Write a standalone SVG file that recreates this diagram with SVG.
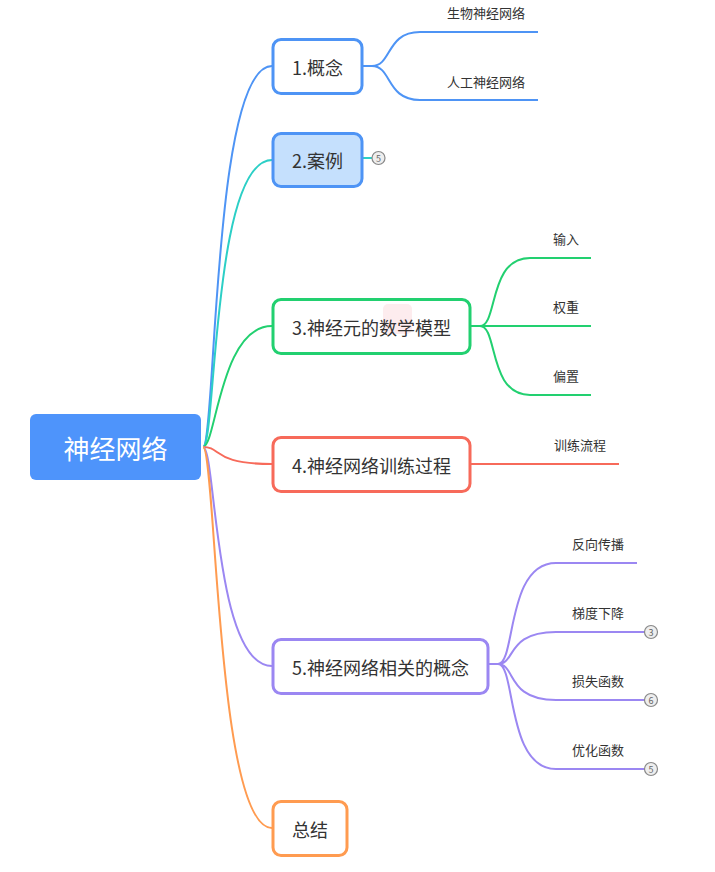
<svg xmlns="http://www.w3.org/2000/svg" width="715" height="872" viewBox="0 0 715 872">
<style>
text{font-family:"Noto Sans CJK SC","Noto Sans",sans-serif;fill:#333}
.n{fill:#fff;stroke-width:3}
.t{font-size:18px;text-anchor:middle;dominant-baseline:central}
.s{font-size:13px;text-anchor:middle}
.c{fill:none;stroke-width:2}
.b{fill:#eee;stroke:#888;stroke-width:1.2}
.bt{font-size:9px;fill:#666;text-anchor:middle;dominant-baseline:central}
</style>
<rect width="715" height="872" fill="#fff"/>
<g id="connectors">
<path class="c" stroke="#4e94f5" d="M203,447 C216,447 212,66 272,66"/>
<path class="c" stroke="#2ccfc6" d="M203,447 C216,447 212,160 272,160"/>
<path class="c" stroke="#22d070" d="M203,447 C216,447 220,326 272,326"/>
<path class="c" stroke="#f76a5a" d="M203,447 C222,447 212,464 272,464"/>
<path class="c" stroke="#9b87f2" d="M203,447 C216,447 214,666 272,666"/>
<path class="c" stroke="#ff9b50" d="M203,447 C216,447 216,828 272,828"/>
<path class="c" stroke="#4e94f5" d="M362,66 L372,66 C392,66 386,32 420,32 L538,32 M372,66 C392,66 386,100 420,100 L538,100"/>
<path class="c" stroke="#2ccfc6" d="M362,158 L372,158"/>
<path class="c" stroke="#22d070" d="M470,326 L480,326 C498,326 488,258 530,258 L591,258 M480,326 L591,326 M480,326 C498,326 488,395 530,395 L591,395"/>
<path class="c" stroke="#f76a5a" d="M470,464 L619,464"/>
<path class="c" stroke="#9b87f2" d="M488,664 L498,664 C516,664 506,563 556,563 L637,563 M498,664 C516,664 506,632 556,632 L644,632 M498,664 C516,664 506,700 556,700 L644,700 M498,664 C516,664 506,769 556,769 L644,769"/>
</g>
<g id="root">
<rect x="30" y="414" width="171" height="66" rx="6" fill="#4e94fb"/>
<text x="115.5" y="447" style="font-size:26px;fill:#fff;text-anchor:middle;dominant-baseline:central">神经网络</text>
</g>
<g id="n1">
<rect class="n" x="273" y="39.5" width="89" height="54" rx="8" stroke="#4e94f5"/>
<text class="t" x="317.5" y="67">1.概念</text>
</g>
<g id="n1a"><text class="s" x="486" y="18">生物神经网络</text></g>
<g id="n1b"><text class="s" x="486" y="87">人工神经网络</text></g>
<g id="n2">
<rect class="n" x="273" y="133.5" width="89" height="53" rx="8" stroke="#4e94f5" style="fill:#c5e0fd"/>
<text class="t" x="317.5" y="160">2.案例</text>
<circle class="b" cx="378.5" cy="158" r="6.5"/><text class="bt" x="378.5" y="158">5</text>
</g>
<g id="n3">
<rect x="383" y="304" width="29" height="30" rx="5" fill="#fdecee"/>
<rect class="n" x="273" y="299.5" width="197" height="54" rx="8" stroke="#22d070" style="fill:none"/>
<text class="t" x="371.5" y="327">3.神经元的数学模型</text>
</g>
<g id="n3a"><text class="s" x="566" y="244">输入</text></g>
<g id="n3b"><text class="s" x="566" y="312">权重</text></g>
<g id="n3c"><text class="s" x="566" y="381">偏置</text></g>
<g id="n4">
<rect class="n" x="273" y="437.5" width="197" height="54" rx="8" stroke="#f76a5a"/>
<text class="t" x="371.5" y="465">4.神经网络训练过程</text>
</g>
<g id="n4a"><text class="s" x="580" y="450">训练流程</text></g>
<g id="n5">
<rect class="n" x="273" y="639.5" width="215" height="54" rx="8" stroke="#9b87f2"/>
<text class="t" x="380.5" y="667">5.神经网络相关的概念</text>
</g>
<g id="n5a"><text class="s" x="598" y="549">反向传播</text></g>
<g id="n5b"><text class="s" x="598" y="618">梯度下降</text><circle class="b" cx="651" cy="632" r="6.5"/><text class="bt" x="651" y="632">3</text></g>
<g id="n5c"><text class="s" x="598" y="686">损失函数</text><circle class="b" cx="651" cy="700" r="6.5"/><text class="bt" x="651" y="700">6</text></g>
<g id="n5d"><text class="s" x="598" y="755">优化函数</text><circle class="b" cx="651" cy="769" r="6.5"/><text class="bt" x="651" y="769">5</text></g>
<g id="n6">
<rect class="n" x="273" y="801.5" width="74" height="54" rx="8" stroke="#ff9b50"/>
<text class="t" x="310" y="829">总结</text>
</g>
</svg>
